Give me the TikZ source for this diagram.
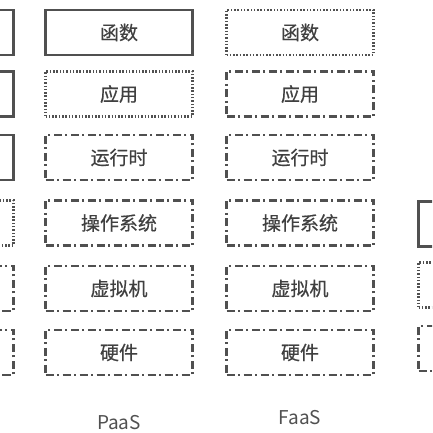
\documentclass[tikz,border=0pt]{standalone}
\usepackage{fontspec}
\setmainfont{Noto Sans CJK SC}[FakeBold=0.5]
\newfontfamily\lblfont{Noto Sans CJK SC}
\begin{document}
\begin{tikzpicture}[x=1pt,y=1pt,
  box/.style={minimum width=147pt,minimum height=45pt,inner sep=0pt,draw=linegray,text=textgray,font=\fontsize{19}{21}\selectfont},
  solidbox/.style={box,line width=2.4pt},
  dotbox/.style={box,line width=2.2pt,dash pattern=on 1.5pt off 1.8pt},
  dashdotbox/.style={box,line width=2.4pt,dash pattern=on 8pt off 3.5pt on 2pt off 3.5pt},
  lbl/.style={text=labelgray,font=\lblfont\fontsize{19}{21}\selectfont}]
\definecolor{linegray}{HTML}{505050}
\definecolor{textgray}{HTML}{404040}
\definecolor{labelgray}{HTML}{505050}
\useasboundingbox (0,0) rectangle (432,433);
\begin{scope}
\clip (0,0) rectangle (432,433);
% left partial column
\node[solidbox]   (l1) at (-60,400.5) {};
\node[solidbox]   (l2) at (-60,339) {};
\node[solidbox]   (l3) at (-60,275.5) {};
\node[dotbox]     (l4) at (-60,210) {};
\node[dashdotbox] (l5) at (-60,144.5) {};
\node[dashdotbox] (l6) at (-60,80.5) {};
% PaaS column
\node[solidbox]   (p1) at (119,400.5) {函数};
\node[dotbox]     (p2) at (119,339) {应用};
\node[dashdotbox] (p3) at (119,275.5) {运行时};
\node[dashdotbox] (p4) at (119,210) {操作系统};
\node[dashdotbox] (p5) at (119,144.5) {虚拟机};
\node[dashdotbox] (p6) at (119,80.5) {硬件};
\node[lbl] (pl) at (119,10) {PaaS};
% FaaS column
\node[dotbox]     (f1) at (300,400.5) {函数};
\node[dashdotbox] (f2) at (300,339) {应用};
\node[dashdotbox] (f3) at (300,275.5) {运行时};
\node[dashdotbox] (f4) at (300,210) {操作系统};
\node[dashdotbox] (f5) at (300,144.5) {虚拟机};
\node[dashdotbox] (f6) at (300,80.5) {硬件};
\node[lbl] (fl) at (300,15) {FaaS};
% right partial column
\node[solidbox]   (r4) at (492,209) {};
\node[dotbox]     (r5) at (492,148) {};
\node[dashdotbox] (r6) at (492,84.5) {};
\end{scope}
\end{tikzpicture}
\end{document}
